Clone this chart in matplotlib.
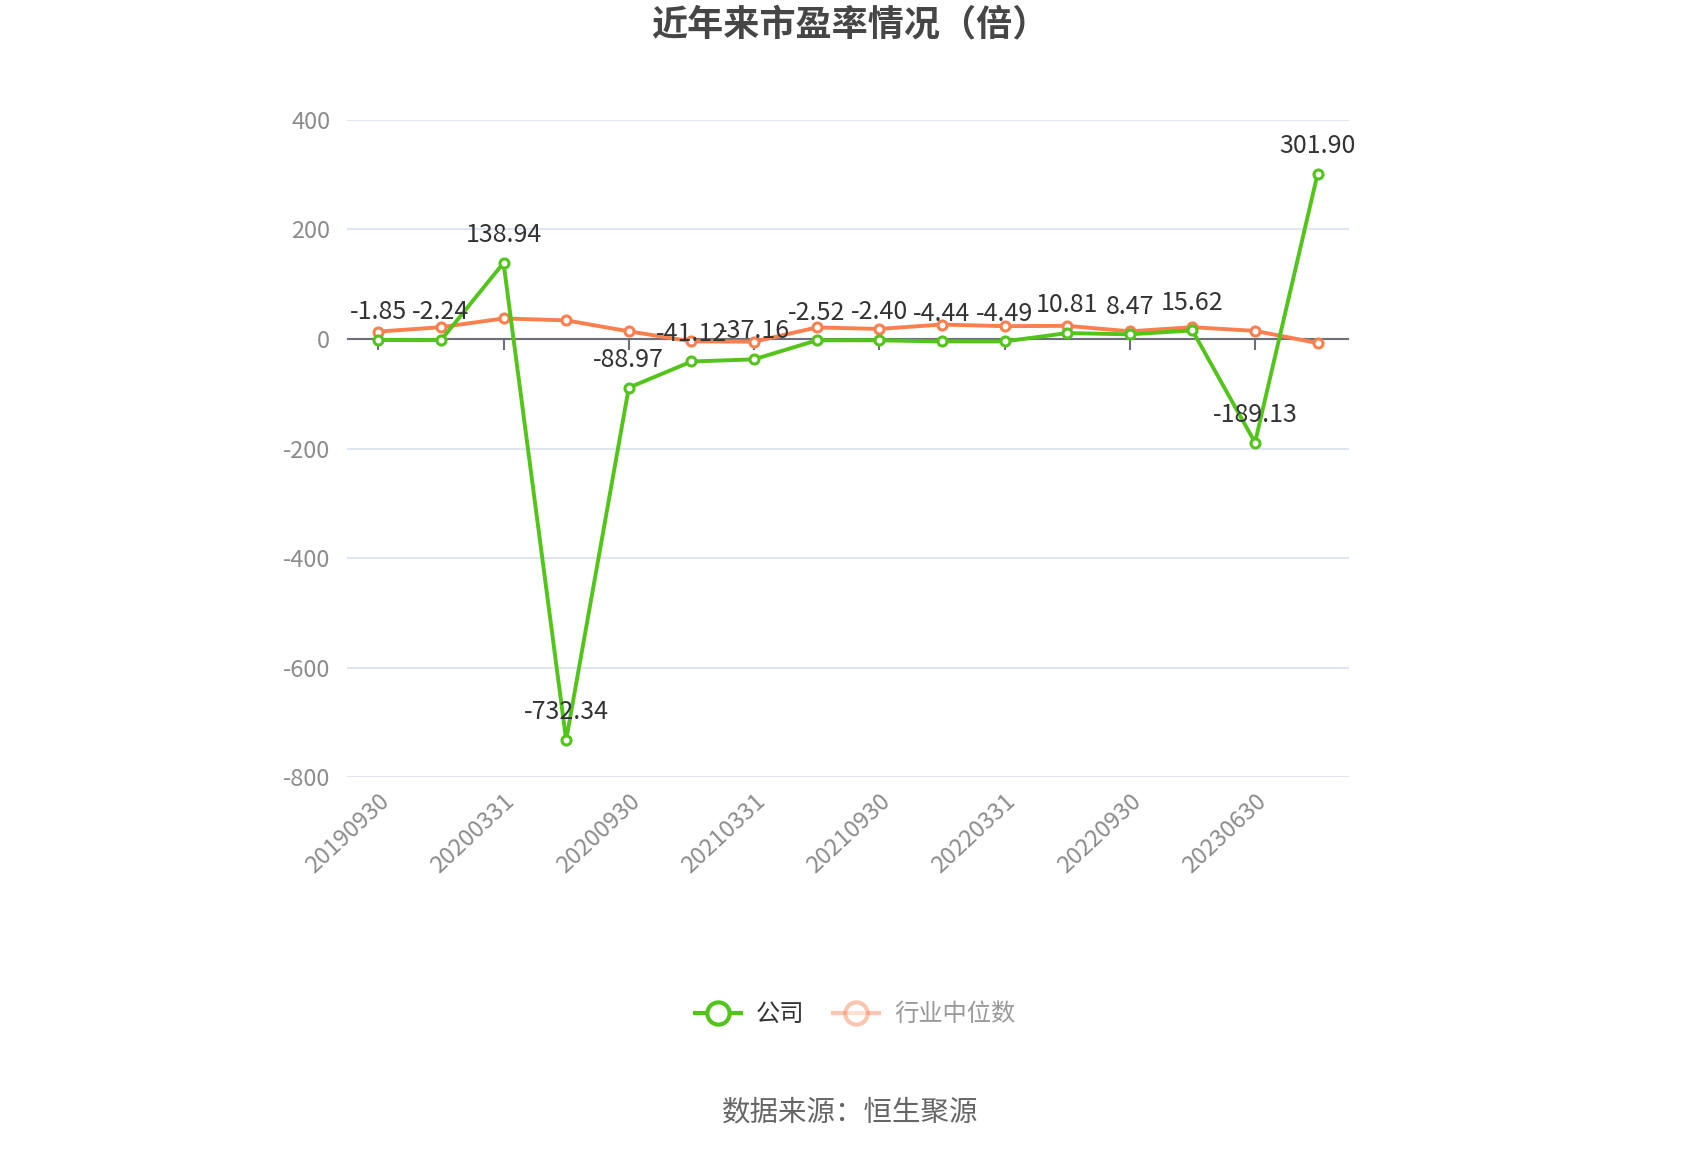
import matplotlib
matplotlib.use("Agg")
import matplotlib.pyplot as plt
from matplotlib.lines import Line2D
from matplotlib.markers import TICKDOWN

plt.rcParams['font.family'] = ['Noto Sans CJK SC', 'DejaVu Sans']

# report dates (only every other one is labelled on the axis)
dates = [
    "20190930", "20191231", "20200331", "20200630", "20200930", "20201231",
    "20210331", "20210630", "20210930", "20211231", "20220331", "20220630",
    "20220930", "20221231", "20230630", "20230930",
]
company_pe = [
    -1.85, -2.24, 138.94, -732.34, -88.97, -41.12, -37.16, -2.52,
    -2.40, -4.44, -4.49, 10.81, 8.47, 15.62, -189.13, 301.90,
]
industry_pe = [
    13.5, 21.5, 37.5, 34.0, 14.0, -4.3, -5.0, 21.0,
    18.4, 26.4, 23.4, 24.0, 14.0, 21.5, 14.8, -7.4,
]
y_ticks = [-800, -600, -400, -200, 0, 200, 400]

green = "#52c41a"
orange = "#fa7f4f"
axis_grey = "#6e7079"

fig = plt.figure(figsize=(17, 11.5), dpi=100)
ax = fig.add_axes([0.2041, 0.3243, 0.5894, 0.5714])

x = list(range(len(dates)))

ax.plot(x, industry_pe, color=orange, linewidth=2.8, marker="o",
        markersize=6.5, markerfacecolor="white", markeredgewidth=2.2,
        markeredgecolor=orange, zorder=3)
ax.plot(x, company_pe, color=green, linewidth=2.8, marker="o",
        markersize=6.5, markerfacecolor="white", markeredgewidth=2.2,
        markeredgecolor=green, zorder=4)

# value labels above every company point (the two around -40 overlap in the original too)
for xi, v in zip(x, company_pe):
    ax.annotate(f"{v:.2f}", xy=(xi, v), xytext=(0, 15),
                textcoords="offset points", ha="center", va="baseline",
                fontsize=18, color="#333333", zorder=5)

ax.set_xlim(-0.5, len(dates) - 0.5)
ax.set_ylim(-800, 400)
ax.set_yticks(y_ticks)
ax.set_yticklabels([str(t) for t in y_ticks])
ax.tick_params(axis="y", length=0, pad=12, labelsize=17, labelcolor="#8c8c8c")

ax.set_xticks(x[::2])
ax.set_xticklabels(dates[::2], rotation=43, ha="right", va="top",
                   rotation_mode="anchor")
ax.tick_params(axis="x", length=0, pad=9, labelsize=17, labelcolor="#8c8c8c")

for s in ax.spines.values():
    s.set_visible(False)

ax.grid(axis="y", color="#e0e6f1", linewidth=1.5)
ax.set_axisbelow(True)

# axis line sits on zero, with tick marks hanging down from it
ax.axhline(0, color=axis_grey, linewidth=1.5, zorder=2)
ax.plot(x[::2], [0] * len(x[::2]), linestyle="none", marker=TICKDOWN,
        markersize=8, markeredgewidth=1.5, color=axis_grey, zorder=2)

fig.text(0.5, 0.978, "近年来市盈率情况（倍）", ha="center", va="center",
         fontsize=26, fontweight="bold", color="#464646")

handles = [
    Line2D([], [], color=green, linewidth=3, marker="o", markersize=16,
           markerfacecolor="white", markeredgewidth=3, markeredgecolor=green),
    Line2D([], [], color=orange, linewidth=3, marker="o", markersize=16,
           markerfacecolor="white", markeredgewidth=3, markeredgecolor=orange,
           alpha=0.45),
]
leg = fig.legend(handles, ["公司", "行业中位数"], loc="center",
                 bbox_to_anchor=(0.503, 0.118), ncol=2, frameon=False,
                 fontsize=17.5, handlelength=1.9, columnspacing=1.2,
                 handletextpad=0.6)
leg.get_texts()[0].set_color("#333333")
leg.get_texts()[1].set_color("#999999")

fig.text(0.5, 0.033, "数据来源：恒生聚源", ha="center", va="center",
         fontsize=20.5, color="#666666")

fig.savefig("out.png", dpi=100, facecolor="white")
